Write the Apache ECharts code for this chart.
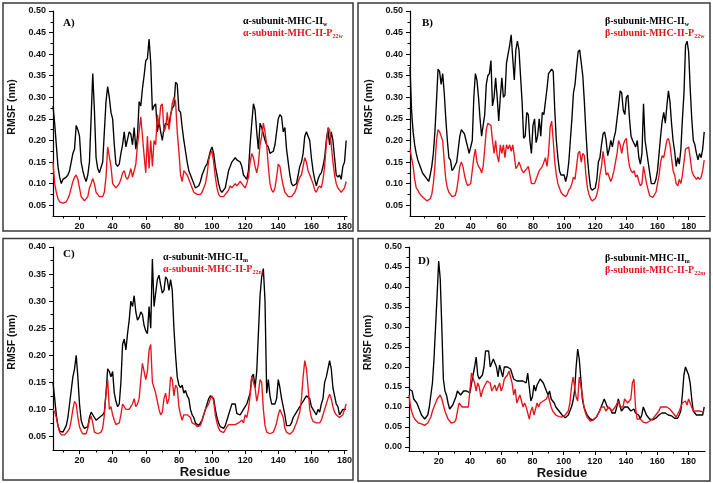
<!DOCTYPE html>
<html><head><meta charset="utf-8">
<script src="https://cdn.jsdelivr.net/npm/echarts@6/dist/echarts.min.js"></script>
<style>html,body{margin:0;padding:0;background:#fff}#c{width:713px;height:483px}</style>
</head><body><div id="c"></div>
<script>
// ---------- data (RMSF in nm, one value per residue) ----------
const startA = 4, startB = 1, startC = 4, startD = 1;

const aBlackW = [
0.28,0.24,0.19,0.14,0.115,0.10,0.11,0.112,0.115,0.12,
0.13,0.15,0.17,0.18,0.235,0.225,0.21,0.15,0.13,0.115,
0.105,0.12,0.15,0.25,0.355,0.27,0.16,0.135,0.125,0.125,
0.15,0.22,0.29,0.325,0.30,0.265,0.25,0.19,0.145,0.14,
0.145,0.17,0.19,0.22,0.185,0.185,0.22,0.215,0.19,0.23,
0.18,0.21,0.29,0.28,0.32,0.35,0.385,0.39,0.435,0.38,
0.27,0.28,0.285,0.22,0.245,0.22,0.20,0.23,0.24,0.24,
0.235,0.26,0.275,0.28,0.335,0.33,0.27,0.265,0.23,0.20,
0.175,0.15,0.13,0.12,0.11,0.10,0.09,0.09,0.095,0.105,
0.12,0.13,0.14,0.145,0.16,0.175,0.185,0.17,0.14,0.12,
0.10,0.085,0.08,0.08,0.09,0.11,0.13,0.14,0.15,0.155,
0.16,0.155,0.155,0.15,0.14,0.12,0.115,0.11,0.13,0.19,
0.24,0.285,0.27,0.22,0.18,0.24,0.23,0.23,0.20,0.19,
0.185,0.17,0.17,0.175,0.19,0.22,0.25,0.26,0.255,0.22,
0.23,0.18,0.15,0.12,0.10,0.095,0.095,0.10,0.12,0.14,
0.15,0.17,0.21,0.22,0.21,0.20,0.16,0.13,0.11,0.095,
0.11,0.12,0.125,0.14,0.16,0.20,0.225,0.19,0.22,0.20,
0.16,0.12,0.115,0.12,0.11,0.14,0.15,0.20];
const aRedW = [
0.15,0.10,0.08,0.065,0.058,0.055,0.055,0.055,0.058,0.065,
0.075,0.09,0.105,0.115,0.12,0.11,0.09,0.07,0.065,0.06,
0.058,0.07,0.09,0.10,0.112,0.10,0.08,0.075,0.07,0.068,
0.07,0.08,0.115,0.185,0.185,0.14,0.10,0.095,0.09,0.092,
0.10,0.11,0.125,0.13,0.115,0.11,0.12,0.135,0.115,0.115,
0.145,0.19,0.22,0.255,0.21,0.165,0.125,0.21,0.135,0.20,
0.14,0.20,0.19,0.26,0.235,0.28,0.285,0.22,0.23,0.265,
0.225,0.255,0.285,0.30,0.29,0.22,0.175,0.12,0.105,0.13,
0.13,0.12,0.11,0.10,0.09,0.08,0.08,0.075,0.072,0.075,
0.08,0.09,0.10,0.12,0.155,0.17,0.175,0.15,0.115,0.09,
0.075,0.07,0.07,0.07,0.075,0.08,0.085,0.095,0.09,0.09,
0.10,0.095,0.095,0.105,0.10,0.095,0.09,0.10,0.115,0.15,
0.17,0.16,0.14,0.125,0.145,0.19,0.21,0.24,0.22,0.19,
0.14,0.10,0.085,0.08,0.09,0.115,0.145,0.14,0.115,0.095,
0.08,0.075,0.07,0.07,0.07,0.075,0.08,0.09,0.105,0.115,
0.12,0.14,0.16,0.15,0.13,0.12,0.12,0.10,0.085,0.08,
0.09,0.095,0.09,0.11,0.14,0.19,0.23,0.225,0.19,0.15,
0.12,0.10,0.09,0.085,0.08,0.085,0.09,0.105];

const bBlackW = [
0.37,0.27,0.22,0.19,0.17,0.155,0.145,0.135,0.125,0.12,
0.115,0.115,0.105,0.12,0.14,0.17,0.22,0.29,0.365,0.36,
0.33,0.355,0.31,0.25,0.20,0.16,0.155,0.13,0.135,0.135,
0.15,0.18,0.21,0.225,0.225,0.215,0.20,0.185,0.17,0.17,
0.20,0.30,0.355,0.34,0.30,0.25,0.21,0.21,0.26,0.33,
0.35,0.355,0.385,0.28,0.30,0.345,0.30,0.245,0.30,0.345,
0.30,0.305,0.38,0.40,0.42,0.445,0.39,0.34,0.41,0.43,
0.41,0.35,0.29,0.205,0.21,0.265,0.26,0.20,0.17,0.235,
0.25,0.195,0.21,0.25,0.21,0.265,0.26,0.29,0.32,0.355,
0.36,0.365,0.36,0.27,0.20,0.16,0.13,0.12,0.12,0.12,
0.105,0.12,0.15,0.20,0.25,0.31,0.33,0.37,0.405,0.41,
0.38,0.35,0.29,0.22,0.16,0.12,0.09,0.085,0.085,0.09,
0.11,0.15,0.16,0.19,0.215,0.22,0.20,0.165,0.18,0.20,
0.185,0.205,0.22,0.25,0.28,0.315,0.31,0.27,0.26,0.30,
0.305,0.25,0.21,0.20,0.20,0.185,0.20,0.16,0.145,0.17,
0.285,0.20,0.175,0.15,0.125,0.10,0.10,0.10,0.11,0.13,
0.17,0.21,0.245,0.265,0.24,0.28,0.315,0.29,0.24,0.20,
0.175,0.14,0.16,0.145,0.18,0.25,0.31,0.42,0.43,0.405,
0.32,0.25,0.20,0.19,0.17,0.155,0.17,0.16,0.18,0.22];
const bRedW = [
0.18,0.16,0.14,0.11,0.09,0.085,0.078,0.073,0.07,0.066,
0.063,0.06,0.06,0.065,0.075,0.10,0.14,0.20,0.225,0.22,
0.21,0.20,0.15,0.11,0.09,0.08,0.075,0.07,0.07,0.072,
0.085,0.11,0.14,0.15,0.14,0.12,0.105,0.095,0.095,0.10,
0.13,0.16,0.18,0.15,0.14,0.135,0.125,0.14,0.18,0.225,
0.24,0.24,0.235,0.20,0.17,0.20,0.165,0.15,0.19,0.17,
0.19,0.16,0.19,0.18,0.19,0.175,0.19,0.165,0.135,0.14,
0.15,0.14,0.13,0.125,0.13,0.135,0.14,0.12,0.10,0.10,
0.10,0.10,0.12,0.13,0.135,0.14,0.14,0.16,0.14,0.17,
0.23,0.245,0.20,0.15,0.12,0.10,0.09,0.08,0.075,0.072,
0.07,0.075,0.085,0.09,0.10,0.115,0.11,0.14,0.17,0.175,
0.15,0.17,0.165,0.12,0.09,0.075,0.065,0.06,0.06,0.065,
0.075,0.09,0.12,0.14,0.175,0.15,0.12,0.125,0.115,0.105,
0.115,0.13,0.15,0.17,0.20,0.19,0.17,0.19,0.20,0.205,
0.165,0.14,0.13,0.125,0.13,0.115,0.12,0.105,0.095,0.10,
0.14,0.12,0.10,0.085,0.072,0.068,0.068,0.07,0.08,0.10,
0.12,0.15,0.165,0.16,0.18,0.20,0.205,0.19,0.16,0.13,
0.12,0.10,0.095,0.11,0.10,0.12,0.15,0.18,0.18,0.185,
0.16,0.13,0.12,0.115,0.11,0.115,0.11,0.115,0.13,0.155];

const aBlackM = [
0.15,0.12,0.09,0.07,0.06,0.058,0.058,0.06,0.07,0.085,
0.11,0.135,0.16,0.175,0.20,0.16,0.11,0.08,0.07,0.065,
0.063,0.068,0.085,0.095,0.095,0.085,0.08,0.082,0.085,0.085,
0.09,0.095,0.13,0.175,0.17,0.16,0.17,0.13,0.115,0.105,
0.11,0.15,0.22,0.23,0.21,0.24,0.265,0.30,0.29,0.31,
0.28,0.265,0.27,0.28,0.275,0.255,0.245,0.24,0.29,0.25,
0.378,0.29,0.315,0.34,0.348,0.33,0.315,0.32,0.345,0.34,
0.32,0.34,0.32,0.25,0.20,0.16,0.145,0.14,0.145,0.13,
0.135,0.125,0.12,0.10,0.09,0.085,0.075,0.072,0.07,0.072,
0.08,0.09,0.10,0.11,0.12,0.125,0.128,0.12,0.10,0.085,
0.075,0.068,0.065,0.065,0.07,0.08,0.09,0.10,0.11,0.112,
0.11,0.092,0.092,0.09,0.095,0.10,0.105,0.11,0.12,0.13,
0.16,0.165,0.14,0.17,0.24,0.31,0.345,0.36,0.30,0.13,
0.155,0.125,0.11,0.11,0.11,0.12,0.155,0.14,0.12,0.12,
0.09,0.07,0.068,0.07,0.075,0.085,0.09,0.095,0.10,0.105,
0.11,0.115,0.12,0.125,0.125,0.12,0.105,0.10,0.095,0.09,
0.10,0.095,0.11,0.12,0.15,0.16,0.175,0.19,0.175,0.14,
0.125,0.11,0.105,0.09,0.095,0.10,0.10,0.10];
const aRedM = [
0.10,0.095,0.085,0.07,0.058,0.053,0.052,0.053,0.056,0.06,
0.065,0.08,0.10,0.115,0.11,0.085,0.068,0.06,0.055,0.053,
0.055,0.065,0.08,0.088,0.075,0.058,0.055,0.055,0.056,0.058,
0.065,0.09,0.13,0.155,0.10,0.105,0.09,0.08,0.072,0.07,
0.075,0.09,0.11,0.105,0.10,0.10,0.10,0.105,0.11,0.12,
0.105,0.11,0.12,0.155,0.185,0.185,0.155,0.17,0.21,0.22,
0.15,0.14,0.13,0.115,0.10,0.09,0.095,0.12,0.13,0.11,
0.12,0.16,0.155,0.125,0.145,0.14,0.105,0.09,0.08,0.09,
0.09,0.09,0.09,0.085,0.075,0.075,0.072,0.068,0.068,0.07,
0.08,0.09,0.10,0.105,0.11,0.12,0.125,0.115,0.09,0.075,
0.065,0.06,0.057,0.057,0.06,0.068,0.072,0.075,0.072,0.075,
0.072,0.072,0.075,0.075,0.08,0.075,0.09,0.085,0.10,0.125,
0.16,0.16,0.14,0.115,0.13,0.155,0.15,0.10,0.07,0.058,
0.055,0.055,0.055,0.058,0.065,0.075,0.09,0.10,0.10,0.085,
0.065,0.058,0.056,0.054,0.055,0.06,0.068,0.075,0.085,0.095,
0.12,0.16,0.19,0.175,0.14,0.10,0.085,0.078,0.075,0.075,
0.072,0.075,0.08,0.09,0.10,0.11,0.12,0.128,0.12,0.105,
0.095,0.09,0.088,0.085,0.085,0.09,0.10,0.11];

const bBlackM = [
0.145,0.14,0.14,0.12,0.115,0.11,0.10,0.09,0.08,0.075,
0.07,0.07,0.08,0.10,0.13,0.16,0.22,0.30,0.38,0.465,
0.42,0.30,0.17,0.14,0.13,0.11,0.095,0.10,0.105,0.11,
0.125,0.14,0.145,0.13,0.135,0.14,0.145,0.14,0.135,0.135,
0.14,0.18,0.20,0.225,0.18,0.17,0.165,0.18,0.20,0.24,
0.245,0.24,0.20,0.20,0.22,0.225,0.20,0.175,0.205,0.20,
0.175,0.20,0.205,0.20,0.195,0.195,0.19,0.17,0.165,0.165,
0.16,0.165,0.16,0.165,0.17,0.16,0.185,0.15,0.115,0.125,
0.155,0.14,0.155,0.16,0.17,0.17,0.16,0.155,0.14,0.13,
0.14,0.12,0.12,0.11,0.10,0.095,0.09,0.085,0.08,0.075,
0.073,0.075,0.08,0.09,0.10,0.115,0.14,0.20,0.245,0.22,
0.17,0.12,0.10,0.09,0.08,0.075,0.07,0.068,0.068,0.07,
0.075,0.08,0.09,0.10,0.10,0.12,0.115,0.10,0.10,0.095,
0.085,0.08,0.085,0.10,0.12,0.115,0.09,0.095,0.10,0.10,
0.10,0.095,0.09,0.085,0.095,0.085,0.08,0.08,0.07,0.08,
0.10,0.095,0.08,0.075,0.07,0.07,0.068,0.07,0.072,0.075,
0.08,0.085,0.085,0.09,0.085,0.08,0.08,0.08,0.078,0.075,
0.072,0.07,0.072,0.08,0.09,0.13,0.18,0.20,0.195,0.18,
0.16,0.12,0.09,0.085,0.08,0.085,0.08,0.075,0.08,0.10];
const bRedM = [
0.13,0.10,0.085,0.075,0.068,0.063,0.06,0.06,0.058,0.056,
0.054,0.054,0.06,0.065,0.075,0.09,0.10,0.11,0.12,0.115,
0.13,0.12,0.105,0.09,0.08,0.07,0.065,0.06,0.065,0.062,
0.068,0.07,0.11,0.105,0.10,0.10,0.10,0.10,0.10,0.105,
0.185,0.19,0.16,0.14,0.16,0.15,0.125,0.14,0.15,0.155,
0.165,0.17,0.16,0.14,0.145,0.155,0.14,0.15,0.16,0.14,
0.15,0.17,0.165,0.18,0.19,0.19,0.16,0.13,0.145,0.11,
0.12,0.13,0.115,0.10,0.11,0.10,0.085,0.07,0.09,0.10,
0.08,0.095,0.11,0.10,0.11,0.105,0.115,0.115,0.12,0.13,
0.13,0.10,0.09,0.085,0.08,0.078,0.076,0.075,0.075,0.078,
0.08,0.085,0.09,0.11,0.15,0.175,0.17,0.125,0.115,0.175,
0.18,0.13,0.10,0.085,0.075,0.07,0.065,0.065,0.068,0.07,
0.075,0.08,0.09,0.10,0.105,0.10,0.09,0.09,0.10,0.095,
0.09,0.095,0.10,0.105,0.115,0.10,0.095,0.10,0.12,0.125,
0.11,0.105,0.12,0.16,0.17,0.10,0.07,0.065,0.07,0.065,
0.062,0.06,0.06,0.062,0.065,0.068,0.07,0.075,0.08,0.085,
0.09,0.10,0.105,0.10,0.10,0.10,0.095,0.095,0.09,0.085,
0.08,0.075,0.08,0.09,0.10,0.11,0.11,0.115,0.105,0.12,
0.125,0.10,0.09,0.09,0.09,0.088,0.09,0.085,0.088,0.09];

// ---------- tick labels ----------
const xTicks = [20,40,60,80,100,120,140,160,180];
const xMinorTicks = [10,30,50,70,90,110,130,150,170];
const yTicksAB = [0.05,0.10,0.15,0.20,0.25,0.30,0.35,0.40,0.45,0.50];
const yMinorAB = [0.075,0.125,0.175,0.225,0.275,0.325,0.375,0.425,0.475];
const yTicksC = [0.05,0.10,0.15,0.20,0.25,0.30,0.35,0.40];
const yMinorC = [0.075,0.125,0.175,0.225,0.275,0.325,0.375];
const yTicksD = [0.00,0.05,0.10,0.15,0.20,0.25,0.30,0.35,0.40,0.45,0.50];
const yMinorD = [0.025,0.075,0.125,0.175,0.225,0.275,0.325,0.375,0.425,0.475];

const names = {
  aW: 'α-subunit-MHC-IIw', aPW: 'α-subunit-MHC-II-P22w',
  bW: 'β-subunit-MHC-IIw', bPW: 'β-subunit-MHC-II-P22w',
  aM: 'α-subunit-MHC-IIm', aPM: 'α-subunit-MHC-II-P22m',
  bM: 'β-subunit-MHC-IIm', bPM: 'β-subunit-MHC-II-P22m'
};
const legendParts = {};
legendParts[names.aW] = ['α-subunit-MHC-II','w',0];
legendParts[names.aPW] = ['α-subunit-MHC-II-P','22w',1];
legendParts[names.bW] = ['β-subunit-MHC-II','w',0];
legendParts[names.bPW] = ['β-subunit-MHC-II-P','22w',1];
legendParts[names.aM] = ['α-subunit-MHC-II','m',0];
legendParts[names.aPM] = ['α-subunit-MHC-II-P','22m',1];
legendParts[names.bM] = ['β-subunit-MHC-II','m',0];
legendParts[names.bPM] = ['β-subunit-MHC-II-P','22m',1];

const RED = '#e8141c';
const SANS = 'Liberation Sans, Arial, sans-serif';
const SERIF = 'Liberation Serif, Times New Roman, serif';

function pairs(start, arr) { return arr.map((v, i) => [start + i, v]); }

const panels = [
  { grid:{left:53, top:11, width:294, height:205}, xMin:4, xMax:181.5, yMin:0.025, yMax:0.5,
    yTicks:yTicksAB, yMinor:yMinorAB, black:pairs(startA,aBlackW), red:pairs(startA,aRedW),
    nB:names.aW, nR:names.aPW, legend:{left:237, top:15}, letter:'A)', lx:63, ly:25, xName:'' },
  { grid:{left:410, top:11, width:295, height:205}, xMin:1, xMax:190.5, yMin:0.025, yMax:0.5,
    yTicks:yTicksAB, yMinor:yMinorAB, black:pairs(startB,bBlackW), red:pairs(startB,bRedW),
    nB:names.bW, nR:names.bPW, legend:{left:599, top:15}, letter:'B)', lx:422, ly:25, xName:'' },
  { grid:{left:53, top:247, width:294, height:203}, xMin:4, xMax:181.5, yMin:0.025, yMax:0.4,
    yTicks:yTicksC, yMinor:yMinorC, black:pairs(startC,aBlackM), red:pairs(startC,aRedM),
    nB:names.aM, nR:names.aPM, legend:{left:157, top:251}, letter:'C)', lx:63, ly:256, xName:'Residue' },
  { grid:{left:409, top:247, width:296, height:204}, xMin:1, xMax:190.5, yMin:-0.01, yMax:0.5,
    yTicks:yTicksD, yMinor:yMinorD, black:pairs(startD,bBlackM), red:pairs(startD,bRedM),
    nB:names.bM, nR:names.bPM, legend:{left:599, top:252}, letter:'D)', lx:418, ly:263, xName:'Residue' }
];

const grid = [], xAxis = [], yAxis = [], series = [], legend = [], graphic = [];
const labelStyle = { fontSize: 9, fontWeight: 'bold', color: '#111', fontFamily: SANS };

panels.forEach((p, i) => {
  grid.push(Object.assign({ containLabel: false }, p.grid));
  xAxis.push({
    gridIndex: i, type: 'value', min: p.xMin, max: p.xMax, position: 'bottom',
    axisLine: { onZero: false, lineStyle: { color: '#000', width: 1.2 } },
    axisTick: { customValues: xTicks, length: 4, lineStyle: { color: '#000', width: 1 } },
    axisLabel: Object.assign({ customValues: xTicks, margin: 6 }, labelStyle),
    splitLine: { show: false },
    name: p.xName, nameLocation: 'middle', nameGap: 16,
    nameTextStyle: { fontSize: 13, fontWeight: 'bold', color: '#111', fontFamily: SANS, padding: [0,0,0,10] }
  });
  yAxis.push({
    gridIndex: i, type: 'value', min: p.yMin, max: p.yMax, position: 'left',
    axisLine: { show: true, onZero: false, lineStyle: { color: '#000', width: 1.2 } },
    axisTick: { show: true, customValues: p.yTicks, length: 4, lineStyle: { color: '#000', width: 1 } },
    axisLabel: Object.assign({ customValues: p.yTicks, margin: 7, formatter: v => v.toFixed(2) }, labelStyle),
    splitLine: { show: false },
    name: 'RMSF (nm)', nameLocation: 'middle', nameGap: 35, nameRotate: 90,
    nameTextStyle: { fontSize: 10.5, fontWeight: 'bold', color: '#111', fontFamily: SANS, padding: [0,0,0,13] }
  });
  series.push({
    name: p.nB, type: 'line', xAxisIndex: 2 * i, yAxisIndex: 2 * i, data: p.black,
    showSymbol: false, symbol: 'none', lineStyle: { color: '#000', width: 1.35 }, itemStyle: { color: '#000' },
    silent: true, z: 2
  });
  series.push({
    name: p.nR, type: 'line', xAxisIndex: 2 * i, yAxisIndex: 2 * i, data: p.red,
    showSymbol: false, symbol: 'none', lineStyle: { color: RED, width: 1.35 }, itemStyle: { color: RED },
    silent: true, z: 3
  });
  xAxis.push({
    gridIndex: i, type: 'value', min: p.xMin, max: p.xMax, position: 'bottom',
    axisLine: { show: false, onZero: false },
    axisTick: { customValues: xMinorTicks, length: 2.5, lineStyle: { color: '#000', width: 1 } },
    axisLabel: { show: false }, splitLine: { show: false }
  });
  yAxis.push({
    gridIndex: i, type: 'value', min: p.yMin, max: p.yMax, position: 'left',
    axisLine: { show: false, onZero: false },
    axisTick: { show: true, customValues: p.yMinor, length: 2.5, lineStyle: { color: '#000', width: 1 } },
    axisLabel: { show: false }, splitLine: { show: false }
  });
  legend.push({
    data: [p.nB, p.nR], left: p.legend.left, top: p.legend.top, orient: 'vertical',
    icon: 'none', itemWidth: 1, itemHeight: 12, itemGap: 0, selectedMode: false, padding: 0,
    formatter: function (name) {
      const lp = legendParts[name];
      return lp[2] ? '{r|' + lp[0] + '}{rs|' + lp[1] + '}' : '{k|' + lp[0] + '}{ks|' + lp[1] + '}';
    },
    textStyle: {
      rich: {
        k:  { color: '#000', fontFamily: SERIF, fontWeight: 'bold', fontSize: 10, lineHeight: 12 },
        ks: { color: '#000', fontFamily: SERIF, fontWeight: 'bold', fontSize: 6, lineHeight: 7, verticalAlign: 'bottom' },
        r:  { color: RED, fontFamily: SERIF, fontWeight: 'bold', fontSize: 10, lineHeight: 12 },
        rs: { color: RED, fontFamily: SERIF, fontWeight: 'bold', fontSize: 6, lineHeight: 7, verticalAlign: 'bottom' }
      }
    }
  });
  graphic.push({
    type: 'text', left: p.lx, top: p.ly - 7, silent: true,
    style: { text: p.letter, fill: '#000', font: 'bold 11px ' + SERIF }
  });
});

[[3,3,350,228],[358,3,352,228],[3,238.5,350,241.5],[358,238.5,352,242.5]].forEach(r => {
  graphic.push({ type: 'rect', silent: true, z: 0,
    shape: { x: r[0], y: r[1], width: r[2], height: r[3] },
    style: { fill: 'none', stroke: '#3a3a3a', lineWidth: 1.5 } });
});

const chart = echarts.init(document.getElementById('c'), null, { renderer: 'canvas' });
chart.setOption({
  animation: false, backgroundColor: '#fff',
  grid, xAxis, yAxis, series, legend, graphic
});
</script>
</body></html>
